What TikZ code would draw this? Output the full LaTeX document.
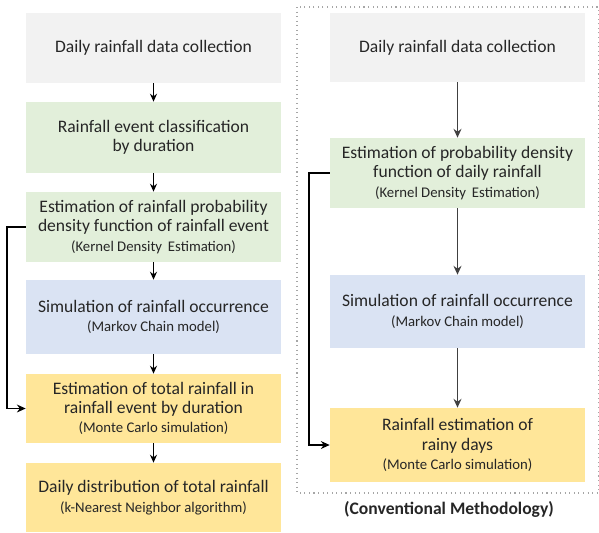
\documentclass[tikz,border=0pt]{standalone}
\usepackage{fontspec}
\setmainfont{Carlito}
\usetikzlibrary{arrows.meta}

\definecolor{boxgrey}{HTML}{F2F2F2}
\definecolor{boxgreen}{HTML}{E2EFDA}
\definecolor{boxblue}{HTML}{DAE3F3}
\definecolor{boxyellow}{HTML}{FFE699}
\definecolor{txtgrey}{HTML}{262626}

\newcommand{\subtxt}[1]{{\fontsize{8.4}{9.5}\selectfont #1}}

\begin{document}
\begin{tikzpicture}[x=0.02cm,y=-0.02cm,
    stepbox/.style={minimum width=5.1cm,align=center,inner sep=0pt,
        text=txtgrey,font=\fontsize{10}{11}\selectfont},
    flow/.style={-{Stealth[length=4.5pt,width=4pt]},black,line width=0.6pt},
    flowgrey/.style={-{Stealth[length=5pt,width=4.5pt]},black!75,line width=0.9pt},
    back/.style={-{Stealth[length=5pt,width=4.5pt]},black,line width=0.6pt}]
            \useasboundingbox (0,0) rectangle (599,532);
            % proposed methodology
            \node[stepbox,fill=boxgrey,minimum height=1.4cm] (collect) at (153.5,48) {Daily rainfall data collection};
            \node[stepbox,fill=boxgreen,minimum height=1.42cm] (classify) at (153.5,137.5) {Rainfall event classification\\by duration};
            \node[stepbox,fill=boxgreen,minimum height=1.4cm] (kde) at (153.5,227) {Estimation of rainfall probability\\density function of rainfall event\\\subtxt{(Kernel Density\, Estimation)}};
            \node[stepbox,fill=boxblue,minimum height=1.48cm] (markov) at (153.5,317) {Simulation of rainfall occurrence\\\subtxt{(Markov Chain model)}};
            \node[stepbox,fill=boxyellow,minimum height=1.38cm] (monte) at (153.5,408.5) {Estimation of total rainfall in\\rainfall event by duration\\\subtxt{(Monte Carlo simulation)}};
            \node[stepbox,fill=boxyellow,minimum height=1.38cm] (knn) at (153.5,497.5) {Daily distribution of total rainfall\\\subtxt{(k-Nearest Neighbor algorithm)}};

            \draw[flow] (collect) -- (classify);
            \draw[flow] (classify) -- (kde);
            \draw[flow] (kde) -- (markov);
            \draw[flow] (markov) -- (monte);
            \draw[flow] (monte) -- (knn);
            \draw[back] (kde.west) -| (7,300) |- (monte.west);

            % conventional methodology
            \draw[black!35,dotted,line width=0.6pt] (297,7) rectangle (598.5,493);
            \node[stepbox,fill=boxgrey,minimum height=1.38cm] (ccollect) at (457.5,47.5) {Daily rainfall data collection};
            \node[stepbox,fill=boxgreen,minimum height=1.4cm] (ckde) at (457.5,173) {Estimation of probability density\\function of daily rainfall\\\subtxt{(Kernel Density\, Estimation)}};
            \node[stepbox,fill=boxblue,minimum height=1.46cm] (cmarkov) at (457.5,311.5) {Simulation of rainfall occurrence\\\subtxt{(Markov Chain model)}};
            \node[stepbox,fill=boxyellow,minimum height=1.48cm] (cmonte) at (457.5,445) {Rainfall estimation of\\rainy days\\\subtxt{(Monte Carlo simulation)}};

            \draw[flowgrey] (ccollect) -- (ckde);
            \draw[flowgrey] (ckde) -- (cmarkov);
            \draw[flowgrey] (cmarkov) -- (cmonte);
            \draw[back] (ckde.west) -| (309,300) |- (cmonte.west);

            \node[font=\bfseries\fontsize{10}{11}\selectfont,text=txtgrey] (caption) at (449,509) {(Conventional Methodology)};
        \end{tikzpicture}
\end{document}
